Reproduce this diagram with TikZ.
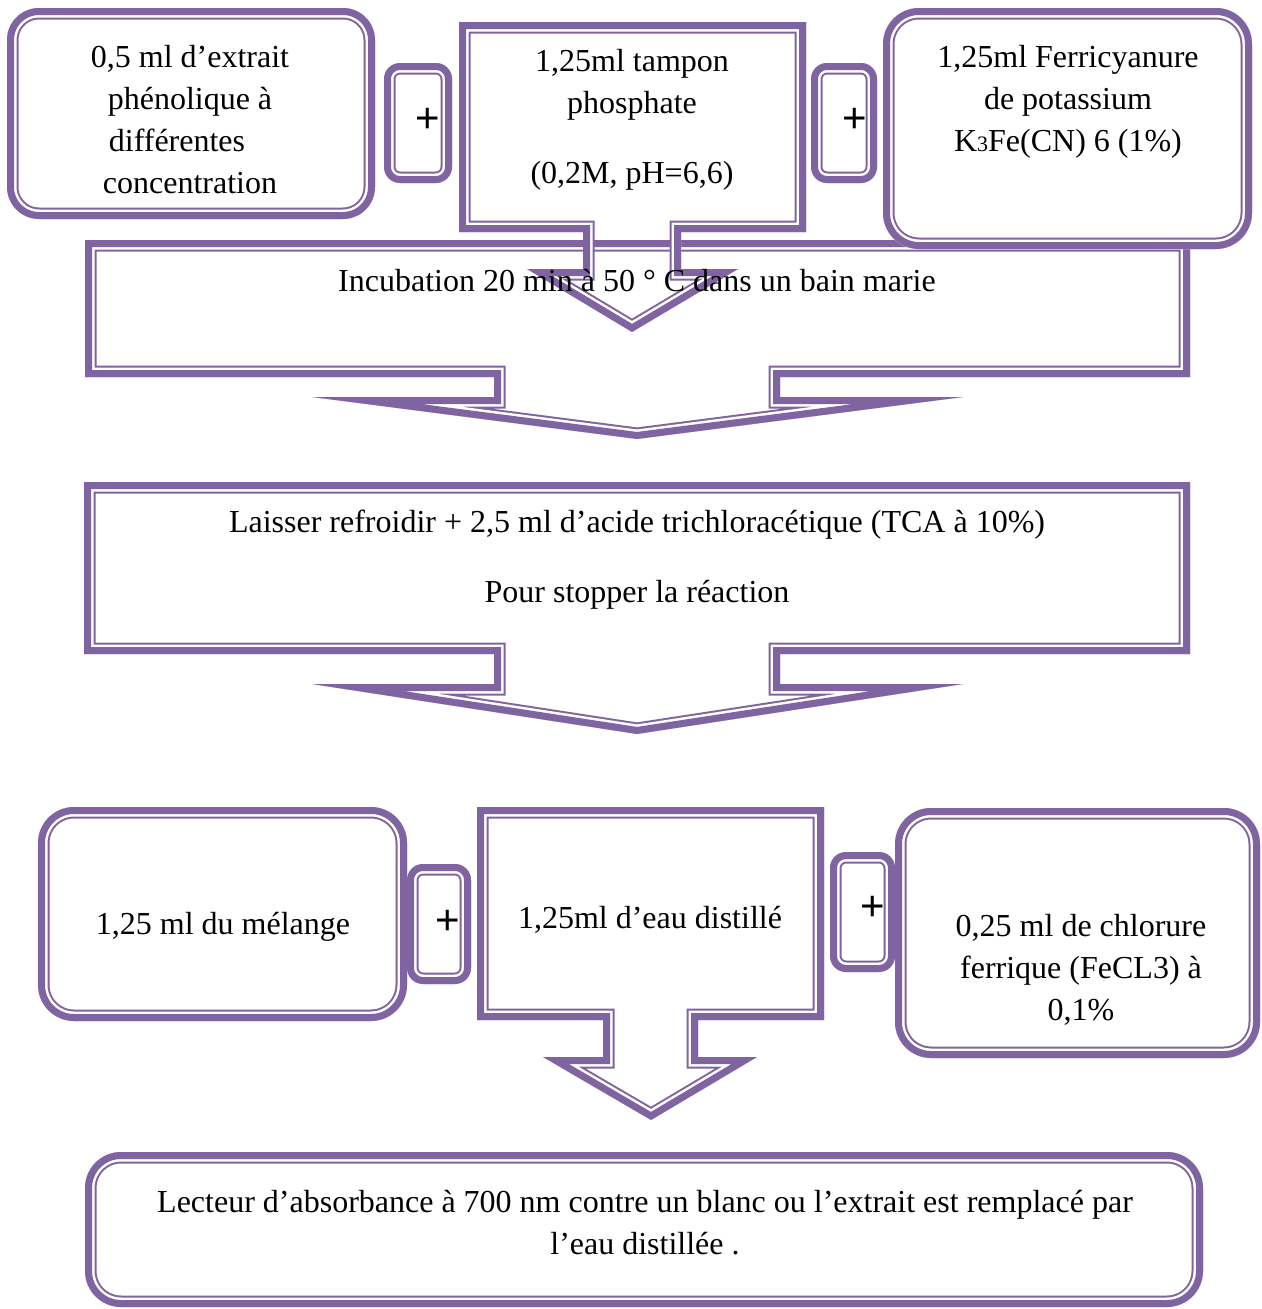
\documentclass[tikz,border=0pt]{standalone}
\usepackage{fontspec}
\setmainfont{Liberation Serif}
\newfontfamily\plusfont{Liberation Sans}
\definecolor{pp}{RGB}{128,100,162}
\newcommand\dblframe[2][]{%
  \begin{scope}
    \clip[#1] #2;
    \draw[pp,line width=23pt,line join=miter,#1] #2;
    \draw[white,line width=19pt,line join=miter,#1] #2;
    \draw[pp,line width=14pt,line join=miter,#1] #2;
  \end{scope}}
\newcommand\dblframefill[2][]{\fill[white,#1] #2; \dblframe[#1]{#2}}
\tikzset{
  txt/.style={font=\fontsize{32}{42}\selectfont, align=center, inner sep=0pt},
  plus/.style={font=\plusfont\fontsize{42}{42}\selectfont, inner sep=0pt}
}
\begin{document}
\begin{tikzpicture}[x=1pt,y=-1pt]
\useasboundingbox (0,0) rectangle (1261,1309);
% --- row 1 ---
\dblframe{(85,240) -- (1190,240) -- (1190,377) -- (780,377) -- (780,397) -- (963,397) -- (637,439) -- (312,397) -- (494,397) -- (494,377) -- (85,377) -- cycle}
\dblframe{(459,22) -- (806,22) -- (806,232) -- (681,232) -- (681,269) -- (738,269) -- (632,332) -- (527,269) -- (583,269) -- (583,232) -- (459,232) -- cycle}
\dblframefill[rounded corners=36pt]{(883,8) rectangle (1252,249)}
\dblframefill[rounded corners=32pt]{(7,8) rectangle (375,219)}
\dblframefill[rounded corners=16pt]{(384,63) rectangle (452,183)}
\dblframefill[rounded corners=16pt]{(811,63) rectangle (877,183)}
% --- row 2 ---
\dblframe{(84,482) -- (1190,482) -- (1190,654) -- (780,654) -- (780,684) -- (963,684) -- (637,734) -- (312,684) -- (494,684) -- (494,654) -- (84,654) -- cycle}
% --- row 3 ---
\dblframefill[rounded corners=36pt]{(38,807) rectangle (407,1021)}
\dblframefill[rounded corners=16pt]{(407,864) rectangle (471,984)}
\dblframe{(477,807) -- (824,807) -- (824,1020) -- (698,1020) -- (698,1057) -- (757,1057) -- (651,1120) -- (543,1057) -- (603,1057) -- (603,1020) -- (477,1020) -- cycle}
\dblframefill[rounded corners=16pt]{(830,852) rectangle (895,972)}
\dblframefill[rounded corners=36pt]{(895,808) rectangle (1260,1058)}
% --- bottom ---
\dblframefill[rounded corners=36pt]{(85,1152) rectangle (1203,1307)}
% --- texts ---
\node[txt] (extrait) at (190,120) {0,5 ml d’extrait\\phénolique à\\différentes\hspace*{26pt}\null\\concentration};
\node[plus] (p1) at (428,120) {+};
\node[txt] (tampon) at (632,120) {1,25ml tampon\\phosphate\\[28pt](0,2M, pH=6,6)};
\node[plus] (p2) at (855,120) {+};
\node[txt] (ferri) at (1068,102) {1,25ml Ferricyanure\\de potassium\\K{\fontsize{22}{22}\selectfont 3}Fe(CN) 6 (1\%)};
\node[txt] (incub) at (637,281) {Incubation 20 min à 50 ° C dans un bain marie};
\node[txt] (tca) at (637,560) {Laisser refroidir + 2,5 ml d’acide trichloracétique (TCA à 10\%)\\[28pt]Pour stopper la réaction};
\node[txt] (melange) at (223,927) {1,25 ml du mélange};
\node[plus] (p3) at (448,922) {+};
\node[txt] (eau) at (650,920) {1,25ml d’eau distillé};
\node[plus] (p4) at (873,908) {+};
\node[txt] (fecl) at (1081,970) {0,25 ml de chlorure\\ferrique (FeCL3) à\\0,1\%};
\node[txt] (lecteur) at (645,1223) {Lecteur d’absorbance à 700 nm contre un blanc ou l’extrait est remplacé par\\l’eau distillée .};
\end{tikzpicture}
\end{document}
